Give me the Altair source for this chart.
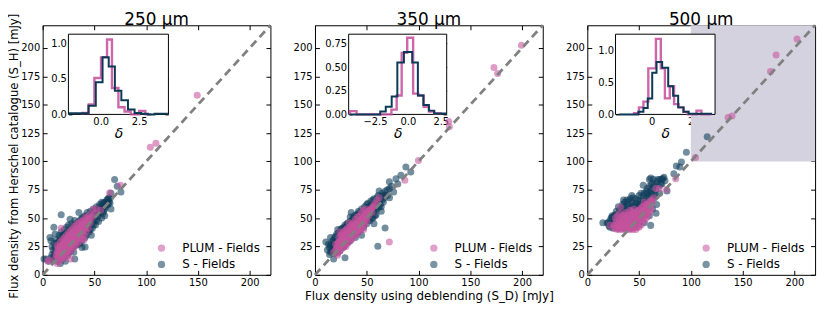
import altair as alt
import pandas as pd

FONT = "DejaVu Sans"
W, H = 230, 252          # plot area of each panel
T = 4.5                  # main tick length (inward)
TI = 3.5                 # inset tick length (inward)

AXIS_MAX = 220
x_ticks = [0, 50, 100, 150, 200]
y_ticks = [0, 25, 50, 75, 100, 125, 150, 175, 200]
diag_line = [0, 220]
shade_x = [100, 220]
shade_y = [100, 220]
series_names = ["PLUM - Fields", "S - Fields"]
series_colors = ["#c4529c", "#0e3d59"]
band_titles = ["250 μm", "350 μm", "500 μm"]
y_title = "Flux density from Herschel catalogue (S_H) [mJy]"
x_title = "Flux density using deblending (S_D) [mJy]"

# ---------------- scatter values (S_D, S_H) ----------------
s250_S = [(1.3, 14), (3.5, 14), (6, 12), (7, 33), (8, 15), (8, 30), (9, 18), (10, 13), (10, 22), (10.8, 42),
          (11, 28), (12, 16), (12, 20), (12, 36), (13, 25), (13, 31), (14, 12), (14, 18), (15, 22), (15, 28),
          (16, 35), (16, 15), (17, 10), (17, 20), (17, 26), (17.9, 53), (18, 31), (18, 38), (19, 14), (19, 23),
          (20, 18), (20, 28), (20, 34), (21, 40), (22, 12), (22, 21), (22, 26), (23, 31), (23, 37), (24, 17),
          (24, 24), (25, 29), (25, 44), (26, 34), (26, 22), (26.5, 49), (27, 27), (27, 39), (28, 31), (28, 45),
          (29, 25), (29, 36), (30, 20), (30, 41), (31, 14), (31, 30), (31, 48), (32, 35), (32, 26), (33, 40),
          (34, 31), (34, 46), (35, 37), (35, 27), (35, 55), (36, 43), (37, 34), (37, 49), (38, 24), (38, 40),
          (38, 30), (39, 45), (40, 36), (40, 51), (41, 24.5), (41, 42), (41, 33), (42, 47), (43, 39), (43, 55),
          (44, 44), (45, 50), (45, 38), (46, 56), (47, 35), (47, 45), (48, 52), (48, 41), (49, 58), (50, 48),
          (50, 55), (51, 44), (52, 60), (53, 52), (54, 47), (54, 58), (55, 62), (56, 55), (57, 50), (57, 64),
          (58, 59), (59, 56), (60, 52), (60, 64), (61, 60), (62, 66), (63, 62), (64, 68), (65, 63), (66, 58),
          (66, 72), (69.5, 84), (72, 78), (75.6, 73),
          (9, 25), (11, 17), (12, 24), (13, 19), (14, 28), (15, 14), (16, 24), (16, 30), (17, 33), (18, 17),
          (18, 27), (19, 35), (20, 22), (20, 31), (21, 17), (21, 26), (21, 36), (22, 33), (23, 23), (23, 42),
          (24, 28), (24, 36), (25, 19), (25, 34), (26, 30), (26, 40), (27, 21), (27, 33), (28, 24), (28, 38),
          (29, 29), (29, 42), (30, 25), (30, 34), (31, 39), (31, 44), (32, 31), (32, 45), (33, 27), (33, 36),
          (34, 36), (34, 42), (35, 32), (35, 47), (36, 28), (36, 38), (37, 40), (37, 45), (38, 34), (38, 50),
          (39, 38), (39, 41), (40, 44), (40, 47), (41, 38), (41, 52), (42, 42), (42, 35), (43, 47), (44, 40),
          (44, 52), (45, 44), (46, 48), (46, 40), (47, 52), (48, 46), (49, 44), (49, 54), (50, 51), (51, 57),
          (52, 48), (52, 55), (53, 58), (54, 52), (55, 56), (56, 60), (57, 57), (58, 54), (58, 63), (59, 61),
          (60, 58), (61, 64), (62, 62), (63, 67), (64, 64), (65, 67)]
s250_P = [(5, 12), (6, 13), (12, 14), (14, 17), (14, 26), (15, 20), (16, 16), (16.3, 19.4), (17, 22), (17.9, 41),
          (18, 19), (18, 25), (19, 22), (20, 17), (20, 27), (21, 24), (22, 20), (22, 30), (23, 26), (24, 22),
          (24, 32), (25, 28), (26, 24), (26, 34), (27, 14), (27, 30), (28, 26), (28, 36), (29, 32), (30, 28),
          (30, 38), (31, 34), (32, 30), (33, 36), (34, 40), (35, 33), (35, 46), (36, 38), (37, 42), (38, 36),
          (39, 44), (40, 31), (40, 40), (42, 44), (44, 48), (46, 46), (48, 52), (48.8, 57.8), (52, 58), (56, 57),
          (64.7, 72.4), (75.3, 79), (104, 112.5), (109.4, 116), (149.3, 158.4),
          (13, 18), (14, 21), (15, 16), (16, 22), (17, 18), (17, 25), (18, 22), (19, 26), (19, 18), (20, 24),
          (21, 20), (21, 28), (22, 23), (23, 30), (23, 21), (24, 27), (25, 24), (25, 33), (26, 29), (27, 26),
          (27, 35), (28, 31), (29, 28), (29, 37), (30, 33), (31, 30), (31, 39), (32, 35), (33, 32), (33, 41),
          (34, 37), (35, 35), (36, 41), (36, 34), (37, 38), (38, 44), (39, 40), (40, 45), (41, 42), (42, 48),
          (43, 45), (45, 49), (47, 50), (50, 54), (20, 21), (16, 19),
          (14, 10), (16, 12), (18, 14), (20, 14), (22, 16), (24, 18), (26, 20), (28, 22), (30, 24), (32, 26),
          (34, 28), (36, 30), (38, 32), (40, 35), (42, 38), (44, 41), (15, 24), (17, 29), (19, 31), (21, 33),
          (23, 35), (25, 37), (27, 39), (29, 41), (31, 43), (33, 45), (35, 41), (37, 47), (39, 48), (41, 50),
          (43, 51), (45, 53)]

s350_S = [(10.5, 29), (12, 22), (14, 18), (15, 26), (15, 33), (16, 21), (17, 30), (18, 14), (18, 24), (19, 19),
          (20, 28), (20, 34), (21, 23), (22, 31), (22, 40), (23, 27), (23, 37), (24, 21), (25, 33), (25, 40),
          (26, 28), (27, 24), (27, 36), (28, 31), (28, 42), (28.1, 25.3), (29, 15), (29, 27), (30, 38), (30, 33),
          (31, 45), (32, 29), (32, 41), (33, 35), (34, 47), (34, 30), (35, 40), (35, 55), (36, 44), (36, 34),
          (37, 50), (38, 38), (38, 46), (39, 33), (40, 42), (40, 53), (41, 48), (42, 38), (42, 56), (43, 45),
          (44, 51), (44, 40), (45, 35), (45, 58), (46, 47), (47, 54), (47, 42), (48, 60), (49, 50), (50, 45),
          (50, 57), (51, 63), (52, 52), (53, 48), (53, 59), (54, 65), (55, 55), (56, 50), (56, 62), (57, 45),
          (57, 67), (58, 58), (59, 53), (60, 64), (60.7, 25.3), (61, 70), (62, 60), (62, 74), (63, 67), (64, 56),
          (65, 72), (66, 64), (67.7, 41.2), (68, 70), (70, 75), (71.8, 82), (72, 68), (74, 78), (76, 73), (78.2, 84.8),
          (80, 80), (83, 87.8), (87.8, 95), (92.5, 90.7),
          (13, 27), (14, 24), (15, 20), (16, 27), (17, 24), (18, 30), (18, 20), (19, 27), (19, 33), (20, 24),
          (21, 30), (21, 36), (22, 27), (22, 20), (23, 32), (24, 28), (24, 38), (25, 25), (25, 36), (26, 33),
          (26, 41), (27, 29), (27, 40), (28, 36), (28, 26), (29, 32), (29, 44), (30, 29), (30, 42), (31, 34),
          (31, 39), (32, 37), (32, 46), (33, 32), (33, 43), (34, 38), (34, 51), (35, 35), (35, 45), (36, 41),
          (36, 49), (37, 37), (37, 46), (38, 42), (38, 52), (39, 40), (39, 48), (40, 37), (40, 47), (41, 43),
          (41, 53), (42, 46), (42, 50), (43, 41), (43, 55), (44, 47), (45, 44), (45, 52), (46, 55), (46, 43),
          (47, 50), (48, 47), (48, 56), (49, 53), (50, 50), (50, 62), (51, 55), (52, 60), (52, 48), (53, 56),
          (54, 53), (54, 61), (55, 59), (56, 66), (57, 56), (58, 62), (59, 60), (60, 58), (60, 68), (61, 63),
          (62, 65), (63, 62), (64, 69), (65, 66), (66, 70), (67, 68), (68, 74), (70, 70), (72, 76), (64, 60),
          (58, 52), (55, 50)]
s350_P = [(18, 20), (20, 22), (21.7, 17.2), (22, 25), (23, 28), (24, 24), (24, 38), (25, 30), (26, 27), (27, 32),
          (28, 29), (29, 34), (30, 31), (30, 27), (31, 36), (32, 33), (33, 38), (33, 46), (34, 35), (35, 31),
          (35, 40), (36, 37), (37, 42), (38, 39), (39, 35), (39, 44), (40, 41), (41, 46), (42, 43), (43, 39),
          (44, 48), (45, 45), (46, 50), (47, 40), (47, 47), (48, 52), (50, 54), (52, 56), (54, 58), (56, 60),
          (58, 63), (60, 66), (62, 68), (71.8, 29), (86.8, 83.4), (99.9, 100.9), (129.2, 135.1), (129.8, 130.5),
          (172.9, 182.8), (176.4, 177.6), (199.4, 202.5),
          (21, 24), (22, 28), (23, 24), (24, 30), (25, 27), (26, 31), (27, 28), (28, 33), (29, 30), (30, 35),
          (31, 32), (32, 37), (33, 34), (34, 39), (35, 36), (36, 40), (37, 38), (38, 43), (39, 41), (40, 45),
          (41, 43), (42, 47), (43, 44), (44, 45), (45, 49), (46, 47), (47, 51), (48, 49), (49, 53), (51, 55),
          (53, 57), (55, 59), (57, 61), (36, 44), (42, 40), (30, 39), (26, 35), (45, 41), (50, 50),
          (20, 27), (22, 19), (24, 21), (26, 23), (28, 25), (30, 25), (32, 28), (34, 31), (36, 32), (38, 35),
          (40, 37), (42, 37), (44, 41), (46, 43), (48, 45), (50, 47), (23, 33), (25, 35), (27, 37), (29, 39),
          (31, 41), (33, 42), (35, 44), (37, 46), (39, 49), (41, 51), (43, 52), (45, 55), (47, 57), (49, 58),
          (52, 52), (55, 55)]

s500_S = [(15, 46), (19.1, 45.6), (20, 46), (22, 42), (23, 50), (24, 44), (24, 50.8), (25, 41), (26, 48), (27, 53),
          (28, 43), (29, 46), (30, 41), (30, 51), (30, 60), (31, 56), (32, 44), (33, 48), (34, 41), (34, 54),
          (35, 60), (35, 66), (36, 45), (37, 50), (38, 42), (38, 57), (39, 62), (40, 47), (41, 53), (41.5, 67),
          (42, 41), (42, 59), (43, 64), (44, 45), (45, 50), (45, 56), (46, 42), (46, 62), (47, 67), (48, 48),
          (49, 54), (50, 44), (50, 60), (51, 65), (52, 50), (53, 57), (54, 70), (54, 79), (55, 46), (55, 63),
          (56, 53), (57, 74), (58, 60), (59, 68), (60, 52), (60, 78), (61, 64), (61.2, 43.6), (61.2, 85.4),
          (62, 72), (63, 58), (63.8, 84.3), (64, 80), (65, 68), (66, 75), (66.4, 54.3), (67, 62), (68, 84),
          (70, 72), (71, 80), (71.8, 84.3), (73, 85), (75, 83), (77, 74), (83.6, 89.2), (86, 96), (89.4, 95),
          (90.9, 99.4), (95.7, 108), (115.8, 121.8),
          (21, 43), (22, 48), (23, 45), (24, 52), (25, 46), (26, 43), (26, 52), (27, 47), (28, 50), (28, 56),
          (29, 42), (29, 53), (30, 46), (31, 49), (31, 43), (32, 52), (32, 58), (33, 44), (33, 55), (34, 47),
          (34, 62), (35, 51), (35, 43), (36, 56), (36, 64), (37, 47), (37, 60), (38, 53), (39, 44), (39, 57),
          (40, 51), (40, 65), (41, 46), (41, 60), (42, 55), (43, 49), (43, 58), (44, 53), (44, 68), (45, 47),
          (45, 61), (46, 57), (47, 52), (47, 63), (48, 60), (49, 50), (49, 66), (50, 56), (50, 70), (51, 53),
          (51, 62), (52, 58), (52, 72), (53, 63), (54, 55), (54, 66), (55, 60), (55, 72), (56, 64), (57, 58),
          (57, 68), (58, 72), (59, 64), (60, 70), (61, 74), (62, 66), (62, 80), (63, 76), (64, 72), (65, 78),
          (66, 70), (67, 82), (69, 78), (70, 84), (72, 80), (74, 86), (43, 70), (38, 66), (58, 76), (60, 84)]
s500_P = [(22, 44), (25, 42), (28, 44), (30, 41), (32, 46), (32, 59.5), (34, 43), (35, 48), (36, 41), (37, 45),
          (38, 50), (40, 42), (40, 47), (42, 41), (42, 52), (43, 45), (44, 49), (45, 54), (46, 43), (47, 51),
          (48, 42), (48, 56), (49, 47), (50, 53), (51, 58), (52, 50), (53, 55), (54, 60), (55, 52), (56, 57),
          (57, 62), (58, 54), (59, 60), (60, 64), (62, 66), (64, 68), (66, 76), (69.6, 76.1), (76.6, 75.2),
          (85.4, 84.8), (104.5, 103.5), (136, 138.6), (139.8, 140.1), (177, 179.3), (182.4, 193.8), (202.6, 207.8),
          (26, 44), (27, 41), (28, 47), (29, 43), (30, 45), (31, 42), (31, 48), (33, 45), (34, 49), (35, 44),
          (36, 47), (37, 42), (38, 46), (39, 49), (39, 44), (40, 52), (41, 45), (41, 49), (42, 47), (43, 52),
          (44, 44), (44, 54), (45, 48), (46, 51), (47, 46), (47, 55), (48, 50), (49, 53), (50, 48), (50, 57),
          (51, 51), (52, 55), (53, 51), (53, 60), (54, 56), (55, 58), (56, 54), (57, 59), (58, 62), (59, 57),
          (60, 61), (61, 65), (63, 64), (33, 42), (45, 42), (39, 41),
          (27, 50), (29, 52), (31, 54), (33, 51), (35, 53), (37, 55), (39, 53), (41, 57), (43, 56), (45, 58),
          (29, 40), (32, 40), (35, 40), (38, 40), (41, 40), (44, 40), (47, 40), (50, 42), (52, 44), (54, 47),
          (56, 49), (58, 51), (60, 55), (62, 58), (55, 64), (36, 52)]

# ---------------- inset histograms of delta ----------------
h250_blue_edges = [-2.0, -0.8, -0.32, 0.12, 0.52, 0.92, 1.34, 1.77, 2.2, 2.63, 3.06, 3.5, 4.3]
h250_blue_heights = [0.015, 0.12, 0.45, 0.8, 0.67, 0.33, 0.2, 0.07, 0.02, 0.01, 0.0, 0.01]
h250_pink_edges = [-1.2, -0.78, -0.41, 0.02, 0.41, 0.73, 1.15, 1.55, 1.95, 2.5, 2.9, 3.3]
h250_pink_heights = [0.02, 0.14, 0.51, 0.8, 1.05, 0.37, 0.1, 0.04, 0.0, 0.05, 0.0]
h250_xdom, h250_ydom = [-2.1, 4.4], [0, 1.124]
h250_xt, h250_yt = [0, 2.5], [0, 0.5, 1.0]

h350_blue_edges = [-4.4, -2.1, -1.68, -1.23, -0.8, -0.3, 0.33, 0.76, 1.18, 1.6, 2.0, 2.9]
h350_blue_heights = [0.0, 0.03, 0.08, 0.19, 0.55, 0.66, 0.55, 0.2, 0.1, 0.04, 0.01]
h350_pink_edges = [-4.4, -3.9, -1.25, -0.85, -0.47, -0.05, 0.4, 0.8, 1.2, 1.6, 2.0, 2.5]
h350_pink_heights = [0.035, 0.0, 0.05, 0.2, 0.65, 0.81, 0.22, 0.2, 0.08, 0.03, 0.01]
h350_xdom, h350_ydom = [-4.5, 2.95], [0, 0.848]
h350_xt, h350_yt = [-2.5, 0, 2.5], [0, 0.25, 0.5, 0.75]

h500_blue_edges = [-1.66, -0.68, -0.42, -0.2, 0.03, 0.25, 0.54, 0.85, 1.1, 1.36, 1.64, 1.9, 3.05]
h500_blue_heights = [0.0, 0.04, 0.1, 0.25, 0.65, 0.82, 0.73, 0.44, 0.29, 0.11, 0.04, 0.01]
h500_pink_edges = [-0.9, -0.65, -0.42, -0.17, 0.22, 0.47, 0.68, 0.93, 1.15, 1.38, 1.62, 1.85, 2.3, 2.55, 3.05]
h500_pink_heights = [0.02, 0.11, 0.2, 0.72, 1.18, 0.72, 0.25, 0.44, 0.16, 0.11, 0.04, 0.0, 0.06, 0.0]
h500_xdom, h500_ydom = [-1.85, 3.25], [0, 1.254]
h500_xt, h500_yt = [0, 2], [0, 0.5, 1.0]

# inset placement inside each panel (pixels: left, right / top, bottom)
inset_boxes = [((26, 127), (9, 90)), ((34, 133), (9, 90)), ((28.5, 129), (9, 90))]


def ax(orient, values, offset, tick, labels=True, title=None, fmt=None, **kw):
    d = dict(orient=orient, values=values, offset=offset, tickSize=tick, domain=False, grid=False,
             labels=labels, tickColor="black", tickWidth=1, labelColor="black", labelFont=FONT,
             labelFontSize=10, labelFlush=False, labelOverlap=False, minExtent=0)
    if title:
        d.update(title=title, titleFont=FONT, titleFontSize=12, titleFontWeight="normal", titleColor="black")
    else:
        d["title"] = None
    if fmt:
        d["format"] = fmt
    d.update(kw)
    return alt.Axis(**d)


def step_df(edges, heights):
    xs, ys = [edges[0]], [0.0]
    for e, h in zip(edges[:-1], heights):
        xs.append(e)
        ys.append(h)
    xs += [edges[-1], edges[-1]]
    ys += [heights[-1], 0.0]
    return pd.DataFrame({"d": xs, "n": ys, "i": list(range(len(xs)))})


def panel(k, S_pts, P_pts, hist, shade=False, xtitle=None):
    rows = [(x, y, "S - Fields") for x, y in S_pts] + [(x, y, "PLUM - Fields") for x, y in P_pts]
    sdf = pd.DataFrame(rows, columns=["x", "y", "series"])
    sdf["k"] = list(range(len(sdf)))
    xs = alt.Scale(domain=[0, AXIS_MAX], nice=False, zero=False)
    ys = alt.Scale(domain=[0, AXIS_MAX], nice=False, zero=False)
    layers = []
    if shade:
        sh = pd.DataFrame({"x": [shade_x[0]], "x2": [shade_x[1]], "y": [shade_y[0]], "y2": [shade_y[1]]})
        layers.append(alt.Chart(sh).mark_rect(color="#d5d2df").encode(
            x=alt.X("x:Q", scale=xs, axis=None), x2="x2:Q",
            y=alt.Y("y:Q", scale=ys, axis=None), y2="y2:Q"))
    pts = alt.Chart(sdf).mark_circle(size=50, opacity=0.58).encode(
        x=alt.X("x:Q", scale=xs, axis=ax("bottom", x_ticks, -T, T, title=xtitle, labelPadding=3, titlePadding=3)),
        y=alt.Y("y:Q", scale=ys, axis=ax("left", y_ticks, -T, T, labelPadding=3)),
        color=alt.Color("series:N", scale=alt.Scale(domain=series_names, range=series_colors),
                        legend=alt.Legend(orient="none", legendX=114, legendY=219, title=None, padding=0,
                                          labelFont=FONT, labelFontSize=12, labelColor="black",
                                          symbolType="circle", symbolSize=55, symbolOpacity=0.55,
                                          symbolStrokeWidth=0, rowPadding=4.5, labelOffset=15)),
        order=alt.Order("k:Q"))
    ddf = pd.DataFrame({"x": diag_line, "y": diag_line})
    dl = alt.Chart(ddf).mark_line(color="#808080", strokeWidth=2.8, strokeDash=[8, 5]).encode(
        x=alt.X("x:Q", scale=xs, axis=ax("top", x_ticks, -T, T, labels=False)),
        y=alt.Y("y:Q", scale=ys, axis=ax("right", y_ticks, -T, T, labels=False)))
    main = alt.layer(*layers, pts, dl).resolve_axis(x="independent", y="independent")

    be, bh, pe, ph, xdom, ydom, xt, yt, xf, yf = hist
    (hx0, hx1), (hy0, hy1) = inset_boxes[k]
    ixs = alt.Scale(domain=xdom, range=[hx0, hx1], nice=False, zero=False)
    iys = alt.Scale(domain=ydom, range=[hy1, hy0], nice=False, zero=False)
    fdf = pd.DataFrame({"d": [xdom[0]], "d2": [xdom[1]], "n": [ydom[0]], "n2": [ydom[1]]})
    frame = alt.Chart(fdf).mark_rect(fill="white", stroke="black", strokeWidth=1).encode(
        x=alt.X("d:Q", scale=ixs, axis=ax("top", xt, -(hy0 + TI), TI, labels=False)), x2="d2:Q",
        y=alt.Y("n:Q", scale=iys, axis=ax("right", yt, hx1 - TI - W, TI, labels=False)), y2="n2:Q")
    pink = alt.Chart(step_df(pe, ph)).mark_line(interpolate="step-after", color="#c64b9b",
                                                strokeWidth=2.4, opacity=0.85).encode(
        x=alt.X("d:Q", scale=ixs, axis=ax("bottom", xt, hy1 - TI - H, TI, title="δ", fmt=xf,
                                           labelPadding=2, titlePadding=0, titleFontStyle="italic",
                                           titleFontSize=14)),
        y=alt.Y("n:Q", scale=iys, axis=ax("left", yt, -(hx0 + TI), TI, fmt=yf, labelPadding=2)),
        order=alt.Order("i:Q"))
    blue = alt.Chart(step_df(be, bh)).mark_line(interpolate="step-after", color="#0c3a56",
                                                strokeWidth=2.0).encode(
        x=alt.X("d:Q", scale=ixs, axis=None),
        y=alt.Y("n:Q", scale=iys, axis=None),
        order=alt.Order("i:Q"))
    inset = alt.layer(frame, pink, blue).resolve_axis(x="independent", y="independent")

    return alt.layer(main, inset).resolve_scale(x="independent", y="independent").properties(
        width=W, height=H,
        title=alt.TitleParams(band_titles[k], fontSize=17, font=FONT, fontWeight="normal", color="black",
                              offset=-9, anchor="middle"))


p1 = panel(0, s250_S, s250_P,
           (h250_blue_edges, h250_blue_heights, h250_pink_edges, h250_pink_heights,
            h250_xdom, h250_ydom, h250_xt, h250_yt, ".1f", ".1f"))
p2 = panel(1, s350_S, s350_P,
           (h350_blue_edges, h350_blue_heights, h350_pink_edges, h350_pink_heights,
            h350_xdom, h350_ydom, h350_xt, h350_yt, ".1f", ".2f"),
           xtitle=x_title)
p3 = panel(2, s500_S, s500_P,
           (h500_blue_edges, h500_blue_heights, h500_pink_edges, h500_pink_heights,
            h500_xdom, h500_ydom, h500_xt, h500_yt, "d", ".1f"),
           shade=True)

chart = alt.hconcat(p1, p2, p3, spacing=45, bounds="flush",
                    padding={"left": 0, "top": 0, "right": 0, "bottom": 0},
                    title=alt.TitleParams(y_title, orient="left", anchor="middle", fontSize=11.7,
                                          font=FONT, fontWeight="normal", color="black", offset=0)
                    ).resolve_scale(color="independent").configure(font=FONT).configure_view(
    stroke="black", strokeWidth=1)

chart.save("out.html", embed_options={"renderer": "svg", "actions": False})
